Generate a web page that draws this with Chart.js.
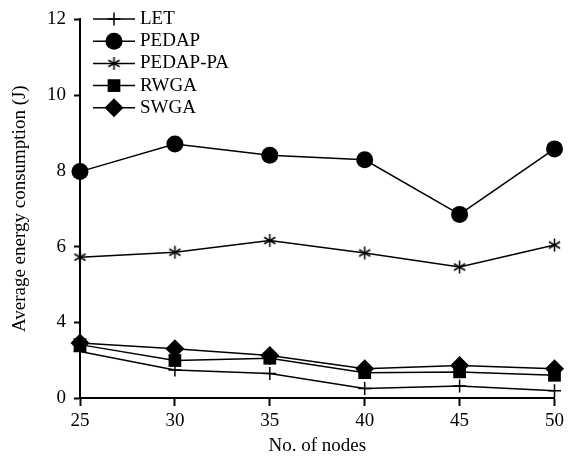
<!DOCTYPE html>
<html><head><meta charset="utf-8">
<script src="https://cdn.jsdelivr.net/npm/chart.js@4.4.0/dist/chart.umd.min.js"></script>
<style>html,body{margin:0;padding:0;background:#fff;overflow:hidden}</style>
</head><body>
<canvas id="c" width="568" height="457" style="display:block;width:568px;height:457px"></canvas>
<script>
// ---- data (y values in the axis' plotted units; the bottom tick is labelled "0") ----
const nodes = [25, 30, 35, 40, 45, 50];
const seriesNames = ['LET', 'PEDAP', 'PEDAP-PA', 'RWGA', 'SWGA'];
const LET      = [3.23, 2.74, 2.65, 2.25, 2.32, 2.19];
const PEDAP    = [7.98, 8.71, 8.41, 8.29, 6.85, 8.58];
const PEDAP_PA = [5.72, 5.85, 6.16, 5.83, 5.46, 6.04];
const RWGA     = [3.41, 2.99, 3.05, 2.67, 2.69, 2.60];
const SWGA     = [3.45, 3.30, 3.12, 2.77, 2.86, 2.77];
const yTickValues = [2, 4, 6, 8, 10, 12];
const yTickLabels = ['0', '4', '6', '8', '10', '12'];

const FONT = '"Liberation Serif", "Times New Roman", serif';

// asterisk marker
function makeAsterisk() {
  const c = document.createElement('canvas');
  c.width = 15; c.height = 15;
  const g = c.getContext('2d');
  g.strokeStyle = '#000'; g.lineWidth = 1.5;
  const cx = 7.5, cy = 7.5, r = 6.5;
  [90, 30, -30].forEach(a => {
    const t = a * Math.PI / 180;
    g.beginPath();
    g.moveTo(cx - r * Math.cos(t), cy - r * Math.sin(t));
    g.lineTo(cx + r * Math.cos(t), cy + r * Math.sin(t));
    g.stroke();
  });
  return c;
}
const asterisk = makeAsterisk();

const seriesData = [LET, PEDAP, PEDAP_PA, RWGA, SWGA];
const styles = [
  { pointStyle: 'cross', pointRadius: 6.5, pointBorderWidth: 1.5 },
  { pointStyle: 'circle', pointRadius: 8.5, pointBorderWidth: 0 },
  { pointStyle: asterisk, pointRadius: 7, pointBorderWidth: 0 },
  { pointStyle: 'rect', pointRadius: 9, pointBorderWidth: 0 },
  { pointStyle: 'rectRot', pointRadius: 9.5, pointBorderWidth: 0 }
];

const datasets = seriesNames.map((name, i) => Object.assign({
  label: name,
  data: nodes.map((x, j) => ({ x: x, y: seriesData[i][j] })),
  borderColor: '#000',
  backgroundColor: '#000',
  pointBackgroundColor: '#000',
  pointBorderColor: '#000',
  borderWidth: 1.5,
  tension: 0,
  fill: false,
  clip: false
}, styles[i]));

const legendPlugin = {
  id: 'lineLegend',
  afterDraw(chart) {
    const ctx = chart.ctx;
    ctx.save();
    const x0 = 93, x1 = 135, xm = 114, xt = 140, y0 = 19, dy = 22.2;
    chart.data.datasets.forEach((ds, i) => {
      const y = y0 + i * dy;
      ctx.strokeStyle = '#000'; ctx.lineWidth = 1.5;
      ctx.beginPath(); ctx.moveTo(x0, y); ctx.lineTo(x1, y); ctx.stroke();
      ctx.fillStyle = '#000'; ctx.strokeStyle = '#000';
      ctx.lineWidth = ds.pointBorderWidth || 1.5;
      Chart.helpers.drawPoint(ctx, { pointStyle: ds.pointStyle, radius: ds.pointRadius, rotation: 0, borderWidth: ds.pointBorderWidth }, xm, y);
      ctx.fillStyle = '#000';
      ctx.font = '19px ' + FONT;
      ctx.textAlign = 'left'; ctx.textBaseline = 'middle';
      ctx.fillText(ds.label, xt, y);
    });
    ctx.restore();
  }
};

new Chart(document.getElementById('c'), {
  type: 'line',
  data: { datasets: datasets },
  options: {
    responsive: false,
    animation: false,
    devicePixelRatio: 1,
    layout: { padding: { left: 0, right: 11, top: 12, bottom: 0 } },
    plugins: { legend: { display: false }, tooltip: { enabled: false } },
    scales: {
      x: {
        type: 'linear', min: 25, max: 50,
        afterBuildTicks: s => { s.ticks = nodes.map(v => ({ value: v })); },
        ticks: { color: '#000', font: { family: FONT, size: 19 }, padding: 4, maxRotation: 0, callback: v => String(v) },
        border: { display: true, color: '#000', width: 2 },
        grid: { display: true, drawOnChartArea: false, drawTicks: true, tickLength: 8, tickColor: '#000', tickWidth: 2 },
        title: { display: true, text: 'No. of nodes', color: '#000', font: { family: FONT, size: 19 }, padding: { top: 0, bottom: 0 } },
        afterFit: s => { s.height = 59; }
      },
      y: {
        type: 'linear', min: 2, max: 12,
        afterBuildTicks: s => { s.ticks = yTickValues.map(v => ({ value: v })); },
        ticks: { color: '#000', font: { family: FONT, size: 19 }, padding: 8,
          callback: (v) => { const k = yTickValues.indexOf(v); return k >= 0 ? yTickLabels[k] : ''; } },
        border: { display: true, color: '#000', width: 2 },
        grid: { display: true, drawOnChartArea: false, drawTicks: true, tickLength: 6, tickColor: '#000', tickWidth: 2 },
        title: { display: true, text: 'Average energy consumption (J)', color: '#000', font: { family: FONT, size: 19 }, padding: { top: 9, bottom: 0 } },
        afterFit: s => { s.width = 80; }
      }
    }
  },
  plugins: [legendPlugin]
});
</script>
</body></html>
